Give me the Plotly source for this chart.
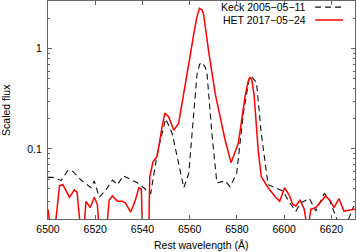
import plotly.graph_objects as go

# Keck 2005-05-11 (dashed)
keck_wl = [6500, 6502, 6505.6, 6508.4, 6510.5, 6514, 6518.2, 6519.6, 6521.7, 6524.5,
           6527.3, 6529.4, 6531.9, 6535, 6537.8, 6540, 6543.5, 6546.3, 6549.8, 6552.6,
           6555, 6557.5, 6559.6, 6563.1, 6564.2, 6565.2, 6566.5, 6567.3, 6569.4, 6571.5,
           6575, 6577.1, 6579.9, 6582.7, 6585.2, 6586.2, 6588.3, 6590.3, 6593.2, 6596.6,
           6599.5, 6602.3, 6605, 6607, 6610.7, 6613.4, 6617, 6619, 6621.1, 6623,
           6626.5, 6629.5]
keck_flux = [0.052, 0.052, 0.0485, 0.061, 0.0596, 0.049, 0.041, 0.048, 0.033, 0.039,
             0.049, 0.044, 0.054, 0.050, 0.046, 0.042, 0.036, 0.0906, 0.20, 0.143,
             0.075, 0.041, 0.057, 0.56, 0.70, 0.73, 0.66, 0.58, 0.143, 0.046,
             0.048, 0.042, 0.057, 0.225, 0.50, 0.53, 0.46, 0.143, 0.044, 0.041,
             0.038, 0.029, 0.024, 0.029, 0.032, 0.024, 0.036, 0.032, 0.024, 0.018,
             0.018, 0.027]

# HET 2017-05-24 (solid red)
het_wl = [6500, 6501.4, 6502.8, 6504.9, 6506.3, 6509.1, 6511.2, 6512.3, 6514, 6515,
          6516.1, 6517.9, 6519.6, 6520.9, 6521.8, 6524.6, 6525.9, 6527.3, 6529.4, 6531.4,
          6532.8, 6535, 6537, 6538.5, 6539.5, 6540.2, 6542.6, 6543.1, 6544.5, 6546.2,
          6548.3, 6549.5, 6551.1, 6553.3, 6555.3, 6558.2, 6560, 6561.7, 6563, 6564.1,
          6565.2, 6565.9, 6568, 6570.8, 6573, 6575, 6577.5, 6580.6, 6583.4, 6584.7,
          6585.5, 6586.3, 6587.3, 6589, 6590.3, 6593.2, 6596, 6598.1, 6600.2, 6602.3,
          6603.6, 6605, 6606.7, 6608.5, 6610, 6611.3, 6613.4, 6615.5, 6617.6, 6619.7,
          6621.1, 6623.2, 6625.3, 6627.5, 6630]
het_flux = [0.025, 0.014, 0.015, 0.043, 0.044, 0.033, 0.039, 0.037, 0.014, 0.014,
            0.030, 0.026, 0.033, 0.028, 0.014, 0.014, 0.031, 0.034, 0.030, 0.030,
            0.029, 0.0234, 0.031, 0.041, 0.040, 0.012, 0.012, 0.053, 0.075, 0.084,
            0.166, 0.229, 0.209, 0.154, 0.18, 0.43, 0.80, 1.40, 2.05, 2.53,
            2.45, 2.2, 0.955, 0.356, 0.20, 0.123, 0.073, 0.114, 0.33, 0.47,
            0.52, 0.49, 0.343, 0.098, 0.053, 0.041, 0.034, 0.030, 0.041, 0.034,
            0.028, 0.027, 0.031, 0.025, 0.015, 0.025, 0.026, 0.030, 0.034, 0.030,
            0.026, 0.032, 0.024, 0.0245, 0.025]

x_ticks = [6500, 6520, 6540, 6560, 6580, 6600, 6620]
y_ticks = [0.1, 1]
y_ticktext = ["0.1", "1"]
y_minor = [0.02, 0.03, 0.04, 0.05, 0.06, 0.07, 0.08, 0.09,
           0.2, 0.3, 0.4, 0.5, 0.6, 0.7, 0.8, 0.9, 2, 3]
labels = ["Keck 2005\u221205\u221211", "HET 2017\u221205\u221224"]
x_title = "Rest wavelength (\u00c5)"
y_title = "Scaled flux"

FONT = "Liberation Sans, Arial, Helvetica, sans-serif"
AX = "#666666"

fig = go.Figure()
fig.add_trace(go.Scatter(x=keck_wl, y=keck_flux, mode="lines", name=labels[0],
                         line=dict(color="#111111", width=1.1, dash="6px,4px")))
fig.add_trace(go.Scatter(x=het_wl, y=het_flux, mode="lines", name=labels[1],
                         line=dict(color="#ff0000", width=1.5)))

# manual gnuplot-style legend (text then sample)
legend_y = [0.972, 0.913]
styles = [dict(color="#111111", width=1.1, dash="6px,4px"), dict(color="#ff0000", width=1.5)]
for lab, yy, st in zip(labels, legend_y, styles):
    fig.add_annotation(x=0.847, y=yy, xref="paper", yref="paper", text=lab,
                       showarrow=False, xanchor="right", yanchor="middle",
                       font=dict(family=FONT, size=10.5, color="black"))
    fig.add_shape(type="line", xref="paper", yref="paper", x0=0.870, x1=0.961,
                  y0=yy, y1=yy, line=st)

# axis titles as annotations for exact placement
fig.add_annotation(x=0.5, y=-0.119, xref="paper", yref="paper", text=x_title,
                   showarrow=False, xanchor="center", yanchor="middle",
                   font=dict(family=FONT, size=10.5, color="black"))
fig.add_annotation(x=-0.137, y=0.5, xref="paper", yref="paper", text=y_title,
                   showarrow=False, xanchor="center", yanchor="middle", textangle=-90,
                   font=dict(family=FONT, size=10.5, color="black"))

fig.update_layout(
    width=357, height=252,
    margin=dict(l=48, r=2, t=1, b=33, autoexpand=False),
    paper_bgcolor="white", plot_bgcolor="white",
    showlegend=False, hovermode=False,
    font=dict(family=FONT, size=10.5, color="black"),
    xaxis=dict(range=[6500, 6630], tickvals=x_ticks, ticks="inside", ticklen=4,
               tickcolor=AX, showline=True, linecolor=AX, linewidth=1, mirror="ticks",
               showgrid=False, zeroline=False, automargin=False),
    yaxis=dict(type="log", range=[-1.699, 0.477], tickvals=y_ticks, ticktext=y_ticktext,
               ticks="inside", ticklen=4, tickcolor=AX, showline=True, linecolor=AX,
               linewidth=1, mirror="ticks", showgrid=False, zeroline=False,
               ticklabelstandoff=3, automargin=False,
               minor=dict(tickmode="array", tickvals=y_minor, ticks="inside",
                          ticklen=2, tickcolor=AX, showgrid=False)),
)

fig.write_html("out.html", config={"displayModeBar": False, "staticPlot": True},
               post_script="document.body.style.margin='0px';document.body.style.overflow='hidden';")
